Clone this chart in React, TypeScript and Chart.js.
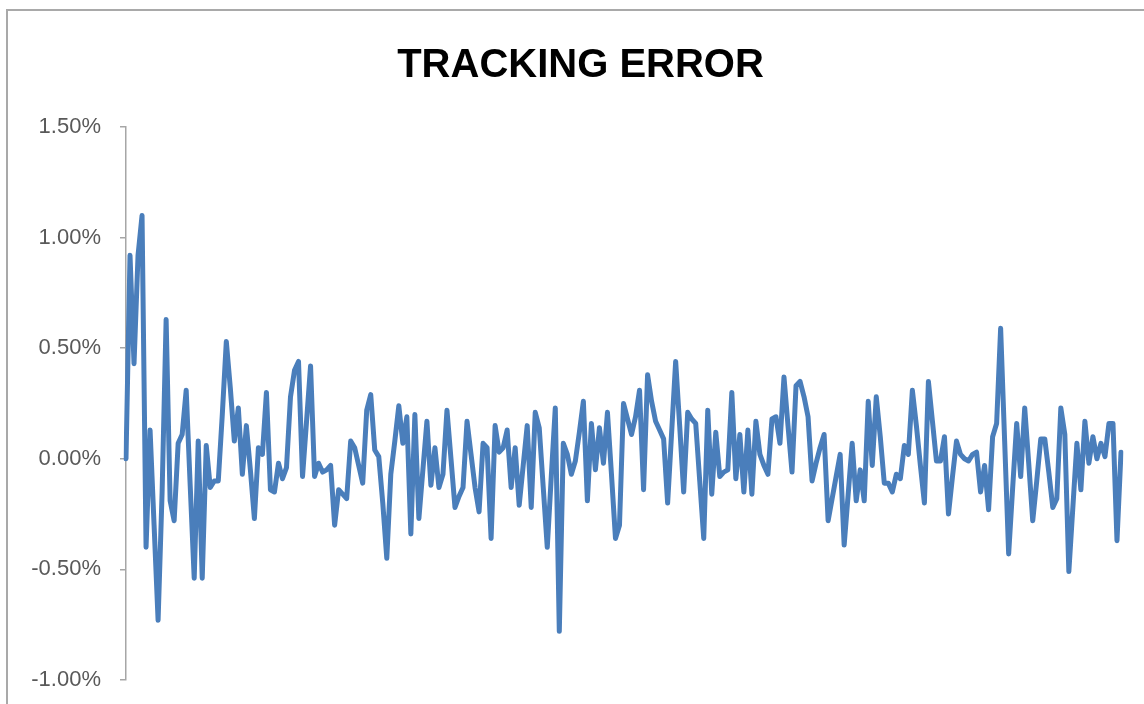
import { useEffect, useRef } from "react";
import { Chart, registerables } from "chart.js";

Chart.register(...registerables);

const chartTitle = "TRACKING ERROR";
const yTickValues = [-1, -0.5, 0, 0.5, 1, 1.5];

// daily tracking error, in percent
const trackingError = [
  0.0, 0.92, 0.43, 0.92, 1.1, -0.4, 0.13, -0.3, -0.73, -0.15,
  0.63, -0.19, -0.28, 0.07, 0.11, 0.31, -0.12, -0.54, 0.08, -0.54,
  0.06, -0.13, -0.1, -0.1, 0.2, 0.53, 0.32, 0.08, 0.23, -0.07,
  0.15, -0.05, -0.27, 0.05, 0.02, 0.3, -0.14, -0.15, -0.02, -0.09,
  -0.04, 0.28, 0.4, 0.44, -0.08, 0.17, 0.42, -0.08, -0.02, -0.06,
  -0.05, -0.03, -0.3, -0.14, -0.16, -0.18, 0.08, 0.05, -0.03, -0.11,
  0.22, 0.29, 0.04, 0.01, -0.2, -0.45, -0.07, 0.08, 0.24, 0.07,
  0.19, -0.34, 0.2, -0.27, -0.05, 0.17, -0.12, 0.05, -0.13, -0.07,
  0.22, 0.0, -0.22, -0.17, -0.13, 0.17, 0.02, -0.13, -0.24, 0.07,
  0.05, -0.36, 0.15, 0.03, 0.05, 0.13, -0.13, 0.05, -0.21, -0.03,
  0.15, -0.22, 0.21, 0.14, -0.13, -0.4, -0.08, 0.23, -0.78, 0.07,
  0.02, -0.07, -0.01, 0.12, 0.26, -0.19, 0.16, -0.05, 0.14, -0.02,
  0.21, -0.07, -0.36, -0.3, 0.25, 0.18, 0.11, 0.19, 0.31, -0.14,
  0.38, 0.26, 0.17, 0.13, 0.09, -0.2, 0.12, 0.44, 0.15, -0.15,
  0.21, 0.18, 0.16, -0.1, -0.36, 0.22, -0.16, 0.12, -0.08, -0.06,
  -0.05, 0.3, -0.09, 0.11, -0.15, 0.13, -0.16, 0.17, 0.02, -0.03,
  -0.07, 0.18, 0.19, 0.07, 0.37, 0.15, -0.06, 0.33, 0.35, 0.28,
  0.19, -0.1, -0.02, 0.05, 0.11, -0.28, -0.18, -0.08, 0.02, -0.39,
  -0.16, 0.07, -0.19, -0.05, -0.19, 0.26, -0.03, 0.28, 0.1, -0.11,
  -0.11, -0.15, -0.07, -0.09, 0.06, 0.02, 0.31, 0.15, -0.03, -0.2,
  0.35, 0.17, -0.01, -0.01, 0.1, -0.25, -0.08, 0.08, 0.02, 0.0,
  -0.01, 0.02, 0.03, -0.15, -0.03, -0.23, 0.1, 0.16, 0.59, 0.08,
  -0.43, -0.13, 0.16, -0.08, 0.23, -0.02, -0.28, -0.1, 0.09, 0.09,
  -0.06, -0.22, -0.18, 0.23, 0.11, -0.51, -0.22, 0.07, -0.14, 0.17,
  -0.02, 0.1, 0.0, 0.07, 0.01, 0.16, 0.16, -0.37, 0.03,
];

const dayLabels = trackingError.map((_, i) => String(i + 1));

const FONT = "'Liberation Sans', Arial, sans-serif";

const titlePlugin = {
  id: "offsetTitle",
  afterDraw(chart: any) {
    const ctx = chart.ctx;
    ctx.save();
    ctx.font = `bold 40px ${FONT}`;
    ctx.fillStyle = "#000000";
    ctx.textAlign = "center";
    ctx.textBaseline = "middle";
    ctx.fillText(chartTitle, 580.5, 66);
    ctx.restore();
  },
};

export default function App() {
  const canvasRef = useRef<HTMLCanvasElement | null>(null);

  useEffect(() => {
    const canvas = canvasRef.current;
    if (!canvas) return;
    const chart = new Chart(canvas, {
      type: "line",
      data: {
        labels: dayLabels,
        datasets: [
          {
            data: trackingError,
            borderColor: "#4a7ebb",
            backgroundColor: "#4a7ebb",
            borderWidth: 5,
            pointRadius: 0,
            tension: 0,
            fill: false,
            borderJoinStyle: "round",
            borderCapStyle: "round",
          },
        ],
      },
      options: {
        responsive: false,
        maintainAspectRatio: false,
        animation: false,
        devicePixelRatio: 1,
        layout: { padding: { left: 0, right: 23, top: 127, bottom: 24 } },
        plugins: {
          legend: { display: false },
          tooltip: { enabled: false },
          title: { display: false },
        },
        scales: {
          x: { display: false, offset: false },
          y: {
            min: -1,
            max: 1.5,
            afterBuildTicks: (scale: any) => {
              scale.ticks = yTickValues.map((v) => ({ value: v }));
            },
            afterFit: (scale: any) => {
              scale.width = 126;
              scale.paddingTop = 0;
              scale.paddingBottom = 0;
            },
            grid: {
              drawOnChartArea: false,
              drawTicks: true,
              tickLength: 6,
              color: "#a6a6a6",
              lineWidth: 1.5,
            },
            border: { display: true, color: "#a6a6a6", width: 1.5 },
            ticks: {
              padding: 19,
              color: "#595959",
              font: { family: FONT, size: 22 },
              callback: (v: any) => `${Number(v).toFixed(2)}%`,
            },
          },
        },
      },
      plugins: [titlePlugin],
    });
    return () => chart.destroy();
  }, []);

  return (
    <div
      style={{
        position: "fixed",
        left: 0,
        top: 0,
        width: 1144,
        height: 704,
        overflow: "hidden",
        background: "#ffffff",
      }}
    >
      <div
        style={{
          position: "absolute",
          left: 6,
          top: 9,
          width: 1300,
          height: 900,
          border: "2px solid #a9a9a9",
          boxSizing: "border-box",
        }}
      />
      <canvas
        ref={canvasRef}
        width={1144}
        height={704}
        style={{ position: "absolute", left: 0, top: 0, display: "block" }}
      />
    </div>
  );
}
